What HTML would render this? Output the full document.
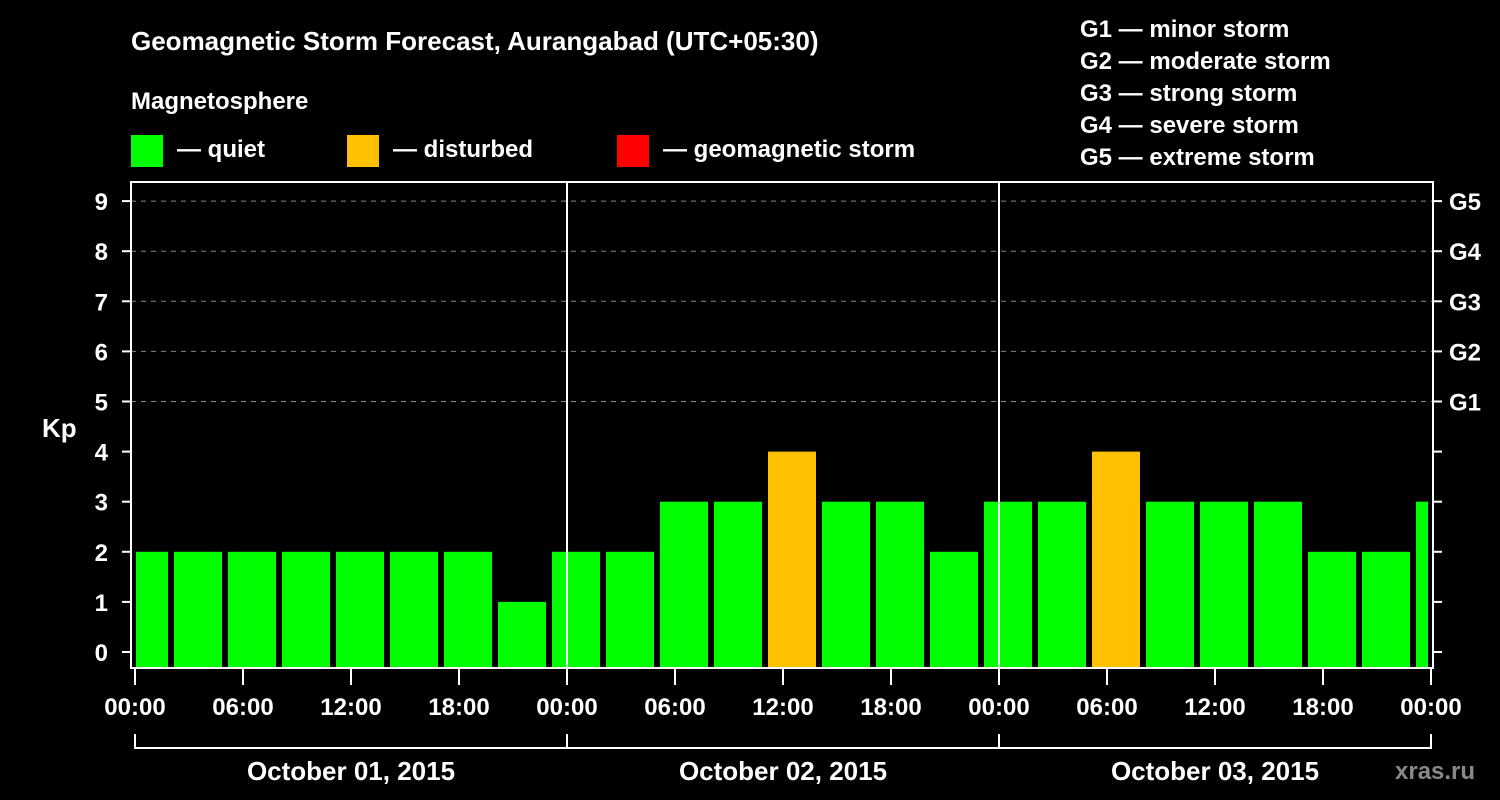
<!DOCTYPE html>
<html><head><meta charset="utf-8"><style>
body{margin:0;background:#000;width:1500px;height:800px;overflow:hidden}
svg{display:block;font-family:"Liberation Sans",sans-serif;font-weight:bold}
</style></head><body>
<svg id="c" width="1500" height="800">
<rect width="1500" height="800" fill="#000"/>
<text x="131" y="50" fill="#fff" font-size="26">Geomagnetic Storm Forecast, Aurangabad (UTC+05:30)</text>
<text x="131" y="109" fill="#fff" font-size="24">Magnetosphere</text>
<rect x="131" y="135" width="32" height="32" fill="#00ff00"/>
<text x="177" y="157" fill="#fff" font-size="24">— quiet</text>
<rect x="347" y="135" width="32" height="32" fill="#ffc000"/>
<text x="393" y="157" fill="#fff" font-size="24">— disturbed</text>
<rect x="617" y="135" width="32" height="32" fill="#ff0000"/>
<text x="663" y="157" fill="#fff" font-size="24">— geomagnetic storm</text>
<g fill="#fff" font-size="24">
<text x="1080" y="37">G1 — minor storm</text>
<text x="1080" y="69">G2 — moderate storm</text>
<text x="1080" y="101">G3 — strong storm</text>
<text x="1080" y="133">G4 — severe storm</text>
<text x="1080" y="165">G5 — extreme storm</text>
</g>
<text x="42" y="437" fill="#fff" font-size="26">Kp</text>
<text x="1395" y="779" fill="#888" font-size="24">xras.ru</text>
<g id="grid"></g><g id="bars"></g><g id="axes"></g>
</svg>
<script>
const kpValues=[2,2,2,2,2,2,2,1, 2,2,3,3,4,3,3,2, 3,3,4,3,3,3,2,2, 3];
const yTicks=[0,1,2,3,4,5,6,7,8,9];
const gLabels=["G1","G2","G3","G4","G5"];
const xTickLabels=["00:00","06:00","12:00","18:00","00:00","06:00","12:00","18:00","00:00","06:00","12:00","18:00","00:00"];
const dayLabels=["October 01, 2015","October 02, 2015","October 03, 2015"];
const NS="http://www.w3.org/2000/svg";
const X0=135,PXH=18,L=131,R=1433,T=182,B=668;
const y=v=>652-50.1*v;
const xh=h=>X0+h*PXH;
function mk(tag,attrs,parent,txt){const e=document.createElementNS(NS,tag);for(const k in attrs)e.setAttribute(k,attrs[k]);if(txt!==undefined)e.textContent=txt;parent.appendChild(e);return e;}
const grid=document.getElementById('grid'),bars=document.getElementById('bars'),axes=document.getElementById('axes');
yTicks.forEach(v=>{
 if(v>=5){const g=mk('line',{x1:L,x2:R,y1:y(v),y2:y(v),stroke:'#888','stroke-dasharray':'5,5','stroke-width':1},grid);
 
 }
 const t=mk('line',{x1:122,x2:L,y1:y(v),y2:y(v),stroke:'#fff','stroke-width':2},axes);
 
 
 const rt=mk('line',{x1:R,x2:1442,y1:y(v),y2:y(v),stroke:'#fff','stroke-width':2},axes);
 
 
 const l=mk('text',{x:108,y:y(v)+9,fill:'#fff','font-size':24,'text-anchor':'end'},axes,String(v));
 
 
});
gLabels.forEach((g,i)=>{
 const l=mk('text',{x:1449,y:y(5+i)+9,fill:'#fff','font-size':24},axes,g);
 
 
});
const clip=mk('clipPath',{id:'pc'},document.getElementById('c'));
mk('rect',{x:136,y:T,width:1292,height:B-T},clip);
bars.setAttribute('clip-path','url(#pc)');
kpValues.forEach((v,i)=>{
 const cx=xh(0.5+3*i);
 const col=v>=5?'#ff0000':(v>=4?'#ffc000':'#00ff00');
 const r=mk('rect',{x:cx-24,y:y(v),width:48,height:B-y(v),fill:col},bars);
 
 
});
[1,2].forEach(d=>{const l=mk('line',{x1:xh(24*d),x2:xh(24*d),y1:T,y2:B,stroke:'#fff','stroke-width':2},axes);
 
 });
const f=mk('rect',{x:L,y:T,width:R-L,height:B-T,fill:'none',stroke:'#fff','stroke-width':2},axes);


xTickLabels.forEach((s,i)=>{
 const x=xh(6*i);
 const t=mk('line',{x1:x,x2:x,y1:B,y2:685,stroke:'#fff','stroke-width':2},axes);
 
 
 const l=mk('text',{x:x,y:715,fill:'#fff','font-size':24,'text-anchor':'middle'},axes,s);
 
 
});
const br=mk('line',{x1:xh(0),x2:xh(72),y1:748,y2:748,stroke:'#fff','stroke-width':2},axes);


[0,1,2,3].forEach(d=>{const l=mk('line',{x1:xh(24*d),x2:xh(24*d),y1:734,y2:749,stroke:'#fff','stroke-width':2},axes);
 
 });
dayLabels.forEach((s,d)=>{const l=mk('text',{x:xh(24*d+12),y:780,fill:'#fff','font-size':26,'text-anchor':'middle'},axes,s);
 
 });
</script>
</body></html>
